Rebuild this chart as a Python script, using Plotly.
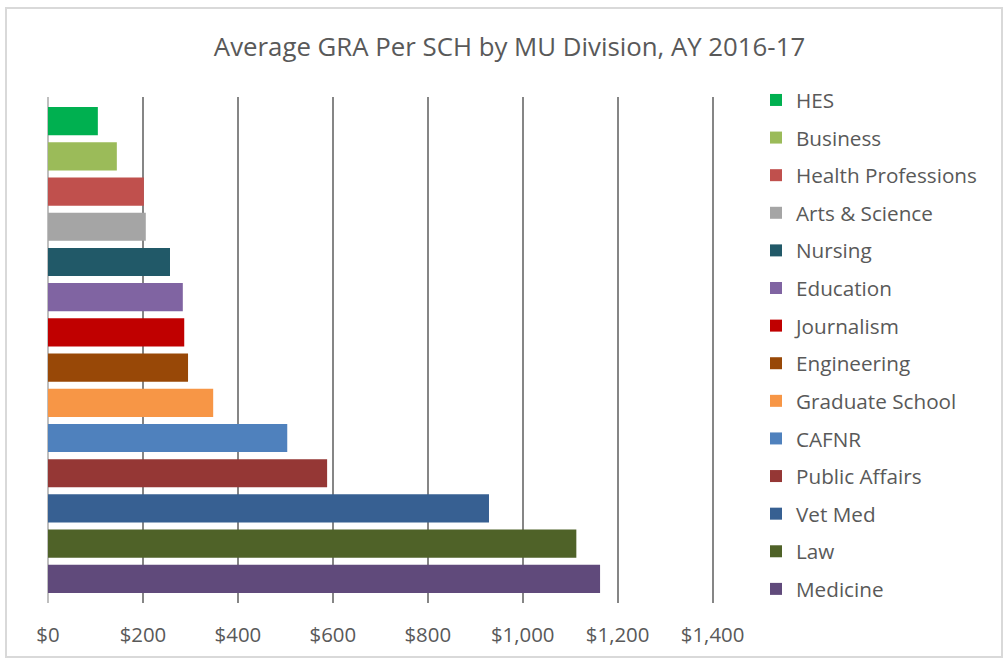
import plotly.graph_objects as go

divisions = ["HES", "Business", "Health Professions", "Arts & Science", "Nursing",
             "Education", "Journalism", "Engineering", "Graduate School", "CAFNR",
             "Public Affairs", "Vet Med", "Law", "Medicine"]
values = [105, 145, 202, 206, 257, 284, 287, 295, 348, 504, 588, 929, 1113, 1163]
colors = ["#00B050", "#9BBB59", "#C0504D", "#A5A5A5", "#215968", "#8064A2", "#C00000",
          "#984807", "#F79646", "#4F81BD", "#953735", "#376092", "#4F6228", "#604A7B"]
tick_vals = [0, 200, 400, 600, 800, 1000, 1200, 1400]
tick_text = ["$0", "$200", "$400", "$600", "$800", "$1,000", "$1,200", "$1,400"]

FONT = "'Open Sans', sans-serif"
TXT = "#595959"

fig = go.Figure()
for d, v, c in zip(divisions, values, colors):
    fig.add_trace(go.Bar(
        x=[v], y=[d], orientation="h", name=d, legendgroup=d,
        marker=dict(color=c, line=dict(width=0)), width=0.8,
    ))

W, H = 1003, 658
L, R, T, B = 48, 289, 97, 55
pw, ph = W - L - R, H - T - B

def px_x(p):
    return (p - L) / pw

def px_y(p):
    return (H - B - p) / ph

n = len(divisions)
pad = 0.185

fig.update_layout(
    width=W, height=H,
    margin=dict(l=L, r=R, t=T, b=B, autoexpand=False),
    paper_bgcolor="white", plot_bgcolor="white",
    barmode="overlay",
    font=dict(family=FONT, color=TXT, size=18),
    title=dict(text="Average GRA Per SCH by MU Division, AY 2016-17",
               x=0.508, xanchor="center", y=1 - 47 / H, yanchor="middle",
               font=dict(size=25.8, color=TXT, family=FONT)),
    xaxis=dict(range=[0, 1403], tickvals=tick_vals, ticktext=tick_text,
               showgrid=True, gridcolor="#868686", gridwidth=2,
               zeroline=True, zerolinecolor="#BFBFBF", zerolinewidth=2,
               showline=False, ticks="outside", ticklen=14, tickcolor="rgba(0,0,0,0)",
               tickfont=dict(size=20.4, color=TXT), fixedrange=True, automargin=False),
    yaxis=dict(type="category", categoryorder="array", categoryarray=divisions,
               range=[n - 0.5 + pad, -0.5 - pad], showticklabels=False, showgrid=False,
               zeroline=False, showline=False, automargin=False, fixedrange=True),
    legend=dict(xref="container", yref="container",
                x=756 / W, xanchor="left", y=1 - 80 / H, yanchor="top",
                traceorder="grouped", tracegroupgap=7.7, maxheight=640,
                font=dict(size=20.7, color=TXT, family=FONT),
                bgcolor="rgba(0,0,0,0)", itemclick=False),
    showlegend=True,
    shapes=[dict(type="rect", xref="paper", yref="paper",
                 x0=px_x(6), x1=px_x(1002), y0=px_y(657), y1=px_y(8),
                 line=dict(color="#D9D9D9", width=2), fillcolor="rgba(0,0,0,0)",
                 layer="below")],
)

fig.write_html("out.html", config={"displayModeBar": False},
               post_script="document.body.style.margin='0';")
